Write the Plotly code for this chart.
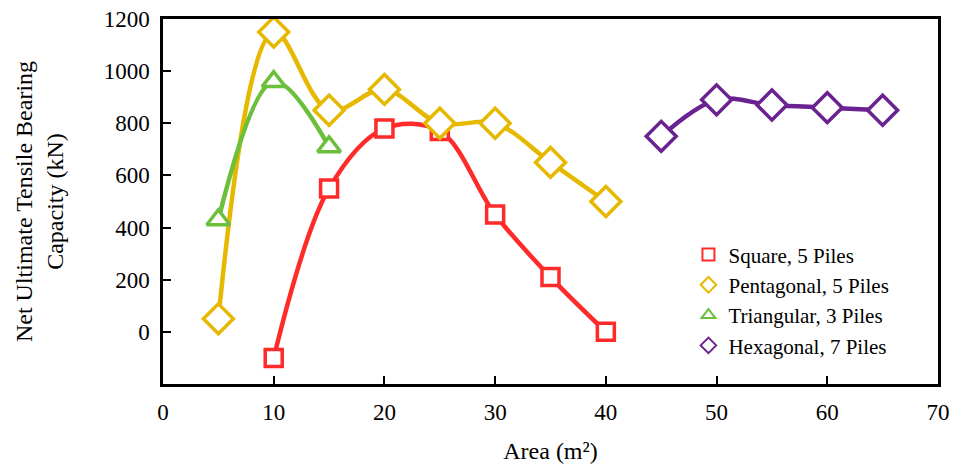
import plotly.graph_objects as go

sq_x = [10, 15, 20, 25, 30, 35, 40]
sq_y = [-100, 550, 780, 770, 450, 210, 0]
pe_x = [5, 10, 15, 20, 25, 30, 35, 40]
pe_y = [50, 1150, 850, 930, 800, 800, 650, 500]
tr_x = [5, 10, 15]
tr_y = [430, 960, 710]
hx_x = [45, 50, 55, 60, 65]
hx_y = [750, 890, 870, 860, 850]

series = [
    ("Square, 5 Piles", sq_x, sq_y, "#FF2A2A", "square", 17),
    ("Pentagonal, 5 Piles", pe_x, pe_y, "#E6B800", "diamond", 23),
    ("Triangular, 3 Piles", tr_x, tr_y, "#6CBF3A", "triangle-up", 20),
    ("Hexagonal, 7 Piles", hx_x, hx_y, "#6A2290", "diamond", 23),
]

fig = go.Figure()
for name, x, y, c, sym, sz in series:
    fig.add_trace(go.Scatter(
        x=x, y=y, name=name, mode="lines+markers", showlegend=False,
        line=dict(color=c, width=4.5, shape="spline", smoothing=1),
        marker=dict(symbol=sym, size=sz, color="white", line=dict(width=3.5, color=c)),
    ))
for name, x, y, c, sym, sz in series:
    fig.add_trace(go.Scatter(
        x=[None], y=[None], name=name, mode="markers", showlegend=True,
        marker=dict(symbol=sym, size=15, color="white", line=dict(width=3, color=c)),
    ))

font = "Liberation Serif, Times New Roman, serif"
fig.update_layout(
    width=953, height=469,
    margin=dict(l=163, r=15, t=19, b=85),
    paper_bgcolor="white", plot_bgcolor="white",
    font=dict(family=font, size=23, color="black"),
    showlegend=True,
    legend=dict(x=0.678, y=0.41, xanchor="left", yanchor="top",
                bgcolor="rgba(0,0,0,0)", font=dict(size=21),
                tracegroupgap=0, itemsizing="constant"),
    xaxis=dict(range=[0, 70], tickvals=[0, 10, 20, 30, 40, 50, 60, 70],
               ticks="inside", ticklen=8, tickwidth=2, tickcolor="black",
               showline=True, linewidth=2.5, linecolor="black", mirror=True,
               showgrid=False, zeroline=False, automargin=False,
               ticklabelstandoff=6,
               title=dict(text="Area (m²)", font=dict(size=24), standoff=18)),
    yaxis=dict(range=[-200, 1200], tickvals=[-200, 0, 200, 400, 600, 800, 1000, 1200],
               ticktext=["", "0", "200", "400", "600", "800", "1000", "1200"],
               ticks="inside", ticklen=8, tickwidth=2, tickcolor="black",
               showline=True, linewidth=2.5, linecolor="black", mirror=True,
               showgrid=False, zeroline=False, automargin=False,
               ticklabelstandoff=6,
               title=dict(text="Net Ultimate Tensile Bearing<br>Capacity (kN)",
                          font=dict(size=24), standoff=34)),
)
fig.write_html("out.html")
